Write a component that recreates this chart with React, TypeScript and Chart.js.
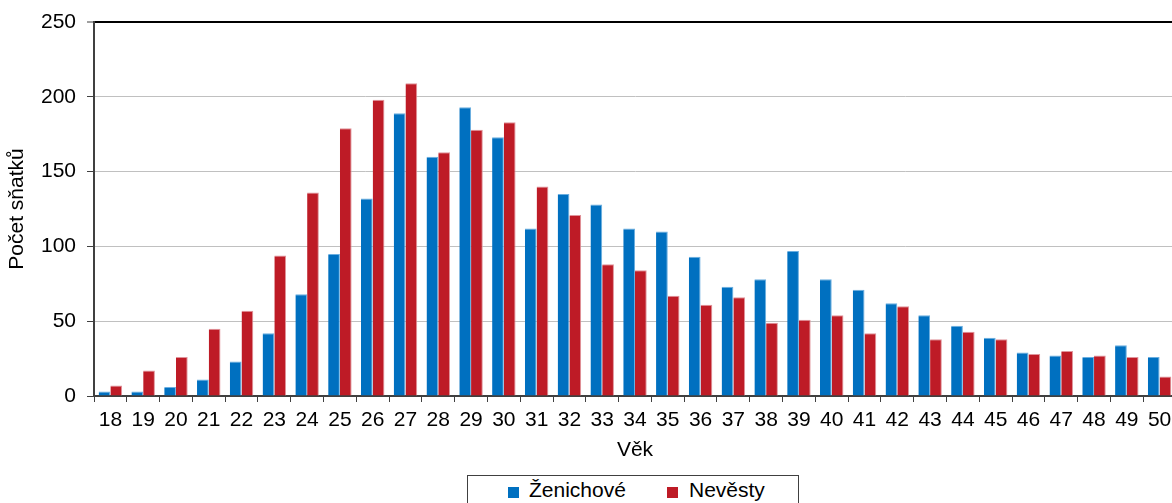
import React, { useEffect, useRef } from 'react';
import { Chart, registerables } from 'chart.js';

Chart.register(...registerables);

const ages = ['18', '19', '20', '21', '22', '23', '24', '25', '26', '27', '28', '29', '30', '31', '32', '33', '34', '35', '36', '37', '38', '39', '40', '41', '42', '43', '44', '45', '46', '47', '48', '49', '50'];

const groomLabel = 'Ženichové';
const brideLabel = 'Nevěsty';

const grooms = [3, 3, 6, 11, 23, 42, 68, 95, 132, 189, 160, 193, 173, 112, 135, 128, 112, 110, 93, 73, 78, 97, 78, 71, 62, 54, 47, 39, 29, 27, 26, 34, 26];
const brides = [7, 17, 26, 45, 57, 94, 136, 179, 198, 209, 163, 178, 183, 140, 121, 88, 84, 67, 61, 66, 49, 51, 54, 42, 60, 38, 43, 38, 28, 30, 27, 26, 13];

const yTicks = [0, 50, 100, 150, 200, 250];

const xTitle = 'Věk';
const yTitle = 'Počet sňatků';

const BLUE = '#0070C0';
const RED = '#BE1B26';
const FONT_FAMILY = '"Liberation Sans", Arial, sans-serif';
const FONT_SIZE = 21;

export default function App() {
  const canvasRef = useRef<HTMLCanvasElement | null>(null);

  useEffect(() => {
    const canvas = canvasRef.current;
    if (!canvas) return;
    const font = { family: FONT_FAMILY, size: FONT_SIZE };
    const chart = new Chart(canvas, {
      type: 'bar',
      data: {
        labels: ages,
        datasets: [
          {
            label: groomLabel,
            data: grooms,
            backgroundColor: BLUE,
            borderColor: '#6aaee0',
            borderWidth: { top: 1, right: 1, bottom: 0, left: 0 },
            categoryPercentage: 0.716,
            barPercentage: 1,
          },
          {
            label: brideLabel,
            data: brides,
            backgroundColor: RED,
            borderColor: '#e0949b',
            borderWidth: { top: 1, right: 1, bottom: 0, left: 0 },
            categoryPercentage: 0.716,
            barPercentage: 1,
          },
        ],
      },
      options: {
        responsive: false,
        maintainAspectRatio: false,
        animation: false,
        layout: { padding: { top: 22, left: 0, right: 0, bottom: 0 } },
        plugins: {
          legend: { display: false },
          tooltip: { enabled: false },
        },
        scales: {
          x: {
            grid: {
              drawOnChartArea: false,
              tickLength: 6,
              tickColor: '#404040',
              offset: true,
            },
            border: { color: '#404040', width: 2 },
            ticks: {
              font,
              color: '#000',
              padding: 6,
              maxRotation: 0,
              autoSkip: false,
            },
            title: {
              display: true,
              text: xTitle,
              font,
              color: '#000',
              padding: { top: 0, bottom: 40 },
            },
            afterFit: (s: any) => {
              s.height = 107;
              s.paddingLeft = 0;
              s.paddingRight = 0;
            },
          },
          y: {
            min: 0,
            max: 250,
            afterBuildTicks: (s: any) => {
              s.ticks = yTicks.map((v) => ({ value: v }));
            },
            ticks: {
              font,
              color: '#000',
              padding: 11,
            },
            grid: {
              color: (c: any) => (c.tick && c.tick.value === 250 ? '#000000' : '#c0c0c0'),
              lineWidth: (c: any) => (c.tick && c.tick.value === 250 ? 2 : 1),
              tickLength: 7,
              tickColor: '#404040',
              tickWidth: 1,
            },
            border: { color: '#404040', width: 2 },
            title: {
              display: true,
              text: yTitle,
              font,
              color: '#000',
              padding: { top: 5, bottom: 0 },
            },
            afterFit: (s: any) => {
              s.width = 94;
              s.paddingTop = 0;
              s.paddingBottom = 0;
            },
          },
        },
      },
    });
    return () => chart.destroy();
  }, []);

  const legendItems = [
    { label: groomLabel, color: BLUE, box: 508, text: 529 },
    { label: brideLabel, color: RED, box: 667, text: 689 },
  ];

  return (
    <div style={{ position: 'absolute', left: 0, top: 0, width: 1172, height: 503, overflow: 'hidden', background: '#fff' }}>
      <canvas ref={canvasRef} width={1176} height={503} style={{ position: 'absolute', left: 0, top: 0, width: 1176, height: 503 }} />
      <div
        style={{
          position: 'absolute',
          left: 467,
          top: 475,
          width: 332,
          height: 40,
          border: '1px solid #404040',
          boxSizing: 'border-box',
          background: '#fff',
        }}
      />
      {legendItems.map((it) => (
        <React.Fragment key={it.label}>
          <div style={{ position: 'absolute', left: it.box, top: 487, width: 11, height: 11, background: it.color }} />
          <span
            style={{
              position: 'absolute',
              left: it.text,
              top: 479,
              fontFamily: FONT_FAMILY,
              fontSize: FONT_SIZE,
              lineHeight: FONT_SIZE + 'px',
              color: '#000',
              whiteSpace: 'nowrap',
            }}
          >
            {it.label}
          </span>
        </React.Fragment>
      ))}
    </div>
  );
}
